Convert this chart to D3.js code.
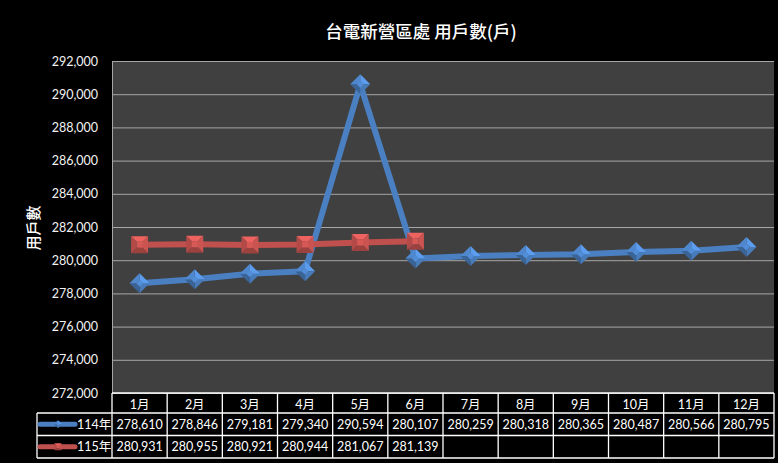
<!DOCTYPE html>
<html>
<head>
<meta charset="utf-8">
<script src="https://cdn.jsdelivr.net/npm/d3@7"></script>
<style>
  html, body { margin: 0; padding: 0; background: #000; }
  svg { display: block; }
</style>
</head>
<body>
<svg width="778" height="463"></svg>
<script>
var months = ['1月', '2月', '3月', '4月', '5月', '6月', '7月', '8月', '9月', '10月', '11月', '12月'];
var yearNames = ['114年', '115年'];
var values114 = [278610, 278846, 279181, 279340, 290594, 280107, 280259, 280318, 280365, 280487, 280566, 280795];
var values115 = [280931, 280955, 280921, 280944, 281067, 281139];
var yTicks = [272000, 274000, 276000, 278000, 280000, 282000, 284000, 286000, 288000, 290000, 292000];

var CONFIG = {
    left: 112, right: 774, top: 61, bottom: 393,
    rowH: 22.5, headH: 20, legendLeft: 37,
    font: 'Lato, "Noto Sans CJK TC", sans-serif',
    colors: ['#4a7fc1', '#c0504d']
};

var svg = d3.select('svg');
var fmt = d3.format(',');

var x = d3.scaleBand().domain(months).range([CONFIG.left, CONFIG.right]).padding(0);
var y = d3.scaleLinear().domain([272000, 292000]).range([CONFIG.bottom, CONFIG.top]);

// plot area
svg.append('rect')
    .attr('x', CONFIG.left).attr('y', CONFIG.top)
    .attr('width', CONFIG.right - CONFIG.left).attr('height', CONFIG.bottom - CONFIG.top)
    .attr('fill', '#404040');

svg.append('g').selectAll('line')
    .data(yTicks)
    .enter().append('line')
    .attr('x1', CONFIG.left).attr('x2', CONFIG.right)
    .attr('y1', function (d) { return y(d) + 0.5; })
    .attr('y2', function (d) { return y(d) + 0.5; })
    .attr('stroke', '#a6a6a6').attr('stroke-width', 1);

svg.append('line')
    .attr('x1', CONFIG.left + 0.5).attr('x2', CONFIG.left + 0.5)
    .attr('y1', CONFIG.top).attr('y2', CONFIG.bottom)
    .attr('stroke', '#a6a6a6');

// y axis labels
var yAxis = svg.append('g')
    .attr('transform', 'translate(' + (CONFIG.left - 14) + ',0)')
    .call(d3.axisLeft(y).tickValues(yTicks).tickFormat(fmt).tickSize(0).tickPadding(0));
yAxis.select('.domain').remove();
yAxis.selectAll('text')
    .attr('fill', '#f2f2f2')
    .style('font-family', CONFIG.font)
    .style('font-size', '12.5px');

// title
svg.append('text')
    .attr('x', 421).attr('y', 38)
    .attr('text-anchor', 'middle')
    .attr('fill', '#ffffff')
    .style('font-family', '"Noto Sans CJK TC", sans-serif')
    .style('font-weight', '500')
    .style('font-size', '17.5px')
    .text('台電新營區處 用戶數(戶)');

svg.append('text')
    .attr('transform', 'translate(39,228) rotate(-90)')
    .attr('text-anchor', 'middle')
    .attr('fill', '#ffffff')
    .style('font-family', '"Noto Sans CJK TC", sans-serif')
    .style('font-weight', '500')
    .style('font-size', '15px')
    .text('用戶數');

/**
 * bevelled marker, drawn as four facets around the centre
 */
function drawMarker(g, kind, color, cx, cy, r) {
    var base = d3.color(color);
    var shades = [base.brighter(0.6), base.brighter(0.15), base.darker(0.6), base.darker(0.2)];
    var pts;
    if (kind === 'diamond') {
        pts = [[0, -r], [r, 0], [0, r], [-r, 0]];
        shades = [base.brighter(0.6), base.darker(0.1), base.darker(0.7), base.brighter(0.2)];
    } else {
        pts = [[-r, -r], [r, -r], [r, r], [-r, r]];
    }
    var inner = r * 0.35;
    for (var i = 0; i < 4; ++i) {
        var a = pts[i], b = pts[(i + 1) % 4];
        var ia = [a[0] * inner / r, a[1] * inner / r], ib = [b[0] * inner / r, b[1] * inner / r];
        g.append('polygon')
            .attr('points', [a, b, ib, ia].map(function (p) { return (cx + p[0]) + ',' + (cy + p[1]); }).join(' '))
            .attr('fill', shades[i]);
    }
    var innerPts = pts.map(function (p) { return (cx + p[0] * inner / r) + ',' + (cy + p[1] * inner / r); }).join(' ');
    g.append('polygon').attr('points', innerPts).attr('fill', base.brighter(0.3));
}

var series = [
    {name: yearNames[0], values: values114, kind: 'diamond', r: 10},
    {name: yearNames[1], values: values115, kind: 'square', r: 8.5}
];

var line = d3.line()
    .x(function (d, i) { return x(months[i]) + x.bandwidth() / 2; })
    .y(function (d) { return y(d); });

series.forEach(function (s, k) {
    var g = svg.append('g');
    g.append('path')
        .datum(s.values)
        .attr('d', line)
        .attr('fill', 'none')
        .attr('stroke', CONFIG.colors[k])
        .attr('stroke-width', 6)
        .attr('stroke-linejoin', 'round');
    s.values.forEach(function (v, i) {
        drawMarker(g, s.kind, CONFIG.colors[k], x(months[i]) + x.bandwidth() / 2, y(v), s.r);
    });
});

// data table
var table = svg.append('g');
var headTop = CONFIG.bottom, row1 = headTop + CONFIG.headH, row2 = row1 + CONFIG.rowH, tableBottom = row2 + CONFIG.rowH;
var cellText = function (tx, ty, txt) {
    table.append('text')
        .attr('x', tx).attr('y', ty)
        .attr('text-anchor', 'middle')
        .attr('dominant-baseline', 'central')
        .attr('fill', '#ffffff')
        .style('font-family', CONFIG.font)
        .style('font-size', '12.5px')
        .text(txt);
};

months.forEach(function (m, i) {
    cellText(x(m) + x.bandwidth() / 2, headTop + CONFIG.headH / 2 + 1, m);
    if (values114[i] !== undefined) cellText(x(m) + x.bandwidth() / 2, row1 + CONFIG.rowH / 2, fmt(values114[i]));
    if (values115[i] !== undefined) cellText(x(m) + x.bandwidth() / 2, row2 + CONFIG.rowH / 2, fmt(values115[i]));
});

var hLines = [
    [CONFIG.left, CONFIG.right, headTop],
    [CONFIG.legendLeft, CONFIG.right, row1],
    [CONFIG.legendLeft, CONFIG.right, row2],
    [CONFIG.legendLeft, CONFIG.right, tableBottom]
];
hLines.forEach(function (l) {
    table.append('line')
        .attr('x1', l[0]).attr('x2', l[1]).attr('y1', l[2]).attr('y2', l[2])
        .attr('stroke', '#ffffff').attr('stroke-width', 1.3);
});
var vx = [CONFIG.left].concat(months.map(function (m) { return x(m) + x.bandwidth(); }));
vx.forEach(function (xx) {
    table.append('line')
        .attr('x1', xx).attr('x2', xx).attr('y1', headTop).attr('y2', tableBottom)
        .attr('stroke', '#ffffff').attr('stroke-width', 1.3);
});
table.append('line')
    .attr('x1', CONFIG.legendLeft).attr('x2', CONFIG.legendLeft).attr('y1', row1).attr('y2', tableBottom)
    .attr('stroke', '#ffffff').attr('stroke-width', 1.3);

// legend keys inside the table
series.forEach(function (s, k) {
    var cy = (k === 0 ? row1 : row2) + CONFIG.rowH / 2;
    var lg = table.append('g');
    lg.append('line')
        .attr('x1', 40).attr('x2', 75).attr('y1', cy).attr('y2', cy)
        .attr('stroke', CONFIG.colors[k]).attr('stroke-width', 5).attr('stroke-linecap', 'round');
    drawMarker(lg, s.kind, CONFIG.colors[k], 58, cy, s.kind === 'diamond' ? 4 : 3.5);
    lg.append('text')
        .attr('x', 77).attr('y', cy)
        .attr('dominant-baseline', 'central')
        .attr('fill', '#ffffff')
        .style('font-family', CONFIG.font)
        .style('font-size', '12.5px')
        .text(s.name);
});
</script>
</body>
</html>
